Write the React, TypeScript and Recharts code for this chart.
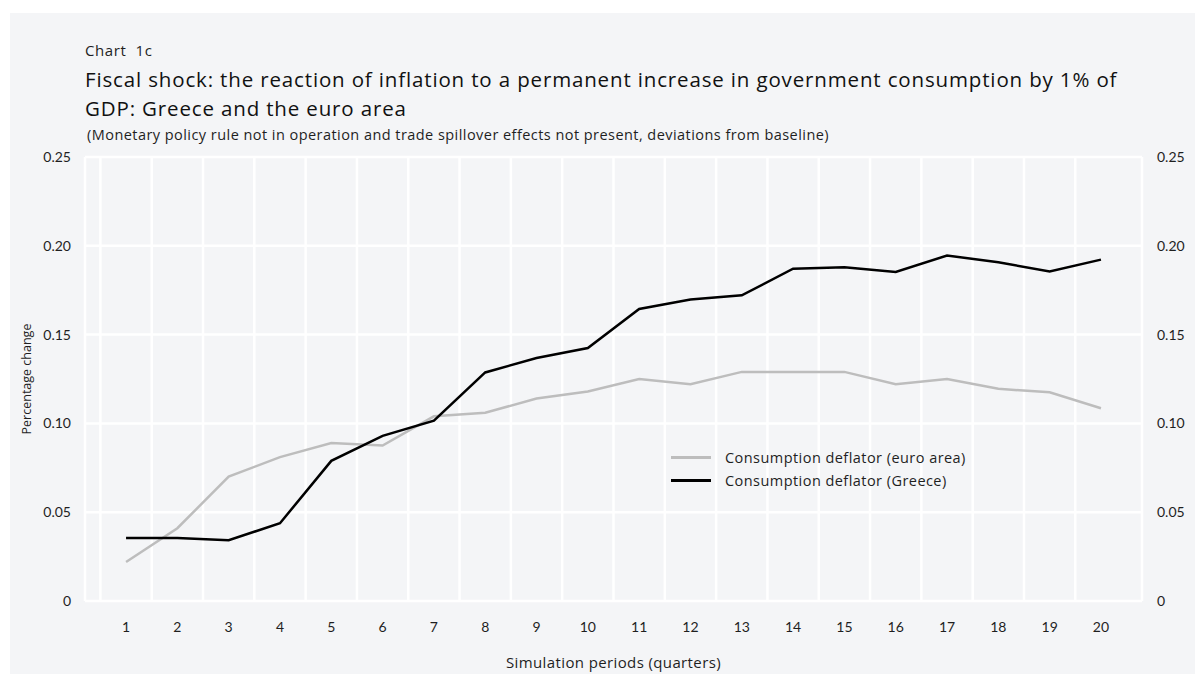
import { CartesianGrid, Legend, Line, LineChart, XAxis, YAxis } from 'recharts'

// Simulation periods (quarters) and deviations from baseline, % change
const periods = [1, 2, 3, 4, 5, 6, 7, 8, 9, 10, 11, 12, 13, 14, 15, 16, 17, 18, 19, 20]
const euroArea = [
  0.022, 0.041, 0.07, 0.081, 0.089, 0.0875, 0.104, 0.106, 0.114, 0.118,
  0.125, 0.122, 0.129, 0.129, 0.129, 0.122, 0.125, 0.1195, 0.1175, 0.1085,
]
const greece = [
  0.0355, 0.0355, 0.0342, 0.0438, 0.0789, 0.093, 0.1015, 0.1287, 0.1368, 0.1424,
  0.1644, 0.1697, 0.1721, 0.1871, 0.1879, 0.1853, 0.1945, 0.1907, 0.1856, 0.1922,
]
const yTicks = [0, 0.05, 0.1, 0.15, 0.2, 0.25]
const seriesNames = ['Consumption deflator (euro area)', 'Consumption deflator (Greece)']

const data = periods.map((p, i) => ({ period: p, euro: euroArea[i], greece: greece[i] }))

const TEXT = '#1f1f1f'
const FONT = '"Open Sans", Lato, sans-serif'
const NUM_FONT = 'Lato, "Open Sans", sans-serif'
const xDomain: [number, number] = [0.2, 20.8]
// vertical grid sits between the periods, plus the plot edges
const gridTicks = [xDomain[0], ...periods.map((p) => p - 0.5), periods[periods.length - 1] + 0.5, xDomain[1]]

const fmt = (v: number) => (v === 0 ? '0' : v.toFixed(2))

function LegendBox({ payload }: any) {
  const items = (payload || [])
    .filter((e: any) => e.type !== 'none' && seriesNames.includes(e.value))
    .sort((a: any, b: any) => seriesNames.indexOf(a.value) - seriesNames.indexOf(b.value))
  return (
    <div style={{ fontFamily: FONT, fontSize: 14.5, letterSpacing: 0.45, color: TEXT }}>
      {items.map((e: any) => (
        <div key={e.value} style={{ display: 'flex', alignItems: 'center', height: 23 }}>
          <span style={{ display: 'inline-block', width: 40, height: 0, borderTop: `3px solid ${e.color}`, marginRight: 14 }} />
          <span>{e.value}</span>
        </div>
      ))}
    </div>
  )
}

export default function App() {
  return (
    <div style={{ position: 'relative', margin: -8, width: 1203, height: 682, background: '#fff', overflow: 'hidden', fontFamily: FONT }}>
      <div style={{ position: 'absolute', left: 10, top: 13, right: 0, bottom: 0, background: '#f4f5f7' }} />
      <div style={{ position: 'absolute', left: 85, top: 41, fontSize: 15, letterSpacing: 0.6, lineHeight: '18px', color: TEXT, whiteSpace: 'pre' }}>
        Chart  1c
      </div>
      <div style={{ position: 'absolute', left: 85, top: 65, width: 1110, fontSize: 20.5, letterSpacing: 0.85, lineHeight: '29px', color: '#111', whiteSpace: 'nowrap' }}>
        Fiscal shock: the reaction of inflation to a permanent increase in government consumption by 1% of
        <br />
        GDP: Greece and the euro area
      </div>
      <div style={{ position: 'absolute', left: 87, top: 126, fontSize: 14.5, letterSpacing: 0.45, lineHeight: '17px', color: TEXT, whiteSpace: 'nowrap' }}>
        (Monetary policy rule not in operation and trade spillover effects not present, deviations from baseline)
      </div>
      <div style={{ position: 'absolute', left: 0, top: 0 }}>
        <LineChart width={1203} height={682} data={data} margin={{ top: 157, right: 15, bottom: 6, left: 25 }} style={{ fontFamily: NUM_FONT }}>
          <CartesianGrid xAxisId="grid" yAxisId="left" stroke="#ffffff" strokeWidth={2.5} />
          <XAxis xAxisId="grid" dataKey="period" type="number" domain={xDomain} ticks={gridTicks} allowDataOverflow hide />
          <XAxis
            dataKey="period"
            type="number"
            domain={xDomain}
            ticks={periods}
            interval={0}
            allowDataOverflow
            axisLine={false}
            tickLine={false}
            tickMargin={15}
            height={75}
            tick={{ fill: TEXT, fontSize: 14 }}
            label={{ value: 'Simulation periods (quarters)', position: 'insideBottom', offset: 8, fill: TEXT, fontSize: 15, fontFamily: FONT, letterSpacing: 0.38 }}
          />
          <YAxis
            yAxisId="left"
            domain={[0, 0.25]}
            ticks={yTicks}
            tickFormatter={fmt}
            axisLine={false}
            tickLine={false}
            tickMargin={8}
            width={60}
            tick={{ fill: TEXT, fontSize: 14 }}
            label={{ value: 'Percentage change', angle: -90, position: 'insideLeft', offset: 2, fill: TEXT, fontSize: 12.5, fontFamily: FONT, style: { textAnchor: 'middle' } }}
          />
          <YAxis
            yAxisId="right"
            orientation="right"
            domain={[0, 0.25]}
            ticks={yTicks}
            tickFormatter={fmt}
            axisLine={false}
            tickLine={false}
            tickMargin={9}
            width={46}
            tick={{ fill: TEXT, fontSize: 14 }}
          />
          <Line yAxisId="left" dataKey="euro" name={seriesNames[0]} stroke="#bdbdbd" strokeWidth={2.5} dot={false} activeDot={false} isAnimationActive={false} />
          <Line yAxisId="left" dataKey="greece" name={seriesNames[1]} stroke="#000000" strokeWidth={2.5} dot={false} activeDot={false} isAnimationActive={false} />
          <Line yAxisId="right" dataKey="greece" stroke="none" legendType="none" dot={false} activeDot={false} isAnimationActive={false} />
          <Legend
            layout="vertical"
            align="center"
            verticalAlign="middle"
            content={<LegendBox />}
            wrapperStyle={{ left: 671, top: 446, width: 340, bottom: 'auto' }}
          />
        </LineChart>
      </div>
    </div>
  )
}
